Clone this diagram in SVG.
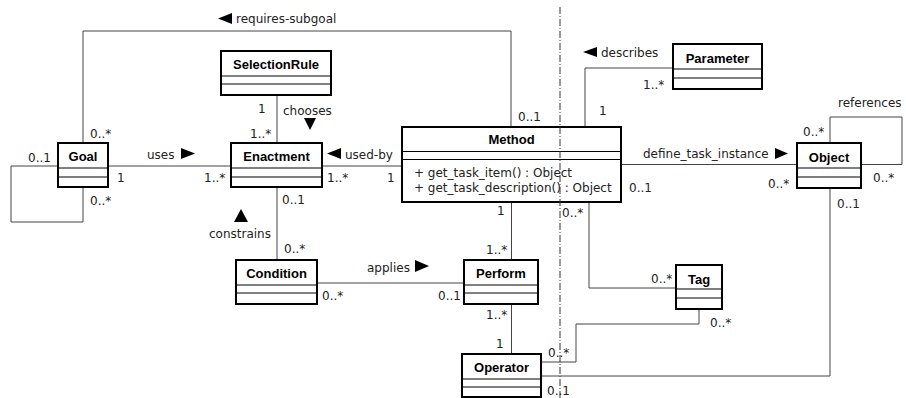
<svg xmlns="http://www.w3.org/2000/svg" width="906" height="398" viewBox="0 0 906 398">
<style>
.box{fill:#fff;stroke:#000;stroke-width:2}
.sep{stroke:#000;stroke-width:1}
.t{font-family:"Liberation Sans",Arial,sans-serif;font-weight:bold;font-size:13px;fill:#000;text-anchor:middle}
.l{font-family:"DejaVu Sans",sans-serif;font-size:12px;fill:#222}
.c{fill:none;stroke:#444;stroke-width:1}
.a{fill:#000}
</style>
<rect width="906" height="398" fill="#fff"/>
<g id="connectors">
<polyline class="c" points="83,143 83,31 511,31 511,127"/>
<polyline class="c" points="58,166 11,166 11,222 83,222 83,187"/>
<line class="c" x1="108" y1="166" x2="231" y2="166"/>
<line class="c" x1="277" y1="95" x2="277" y2="143"/>
<line class="c" x1="322" y1="166" x2="402" y2="166"/>
<line class="c" x1="277" y1="187" x2="277" y2="260"/>
<line class="c" x1="317" y1="283" x2="464" y2="283"/>
<line class="c" x1="511.5" y1="202" x2="511.5" y2="260"/>
<line class="c" x1="511.5" y1="304" x2="511.5" y2="354"/>
<polyline class="c" points="585,127 585,68 673,68"/>
<line class="c" x1="621" y1="164.5" x2="797" y2="164.5"/>
<polyline class="c" points="830,143 830,117 902,117 902,164.5 861,164.5"/>
<polyline class="c" points="589,202 589,288 676,288"/>
<polyline class="c" points="699,309 699,324 576,324 576,362 541,362"/>
<polyline class="c" points="830,188 830,376 541,376"/>
<polygon class="a" points="218,18.5 232,13 232,24"/>
<polygon class="a" points="181,148 195,153.5 181,159"/>
<polygon class="a" points="304,118 316,118 310,130"/>
<polygon class="a" points="327,153.5 341,148 341,159"/>
<polygon class="a" points="241,209 248,222 234,222"/>
<polygon class="a" points="583,52 597,47 597,57"/>
<polygon class="a" points="775,148 788,153.5 775,159"/>
<polygon class="a" points="415,260 429,266 415,272"/>
<text class="l" x="236" y="23">requires-subgoal</text>
<text class="l" x="258" y="113">1</text>
<text class="l" x="283" y="115">chooses</text>
<text class="l" x="250" y="138">1..*</text>
<text class="l" x="90" y="138">0..*</text>
<text class="l" x="28" y="162">0..1</text>
<text class="l" x="147" y="159">uses</text>
<text class="l" x="117" y="182">1</text>
<text class="l" x="204" y="182">1..*</text>
<text class="l" x="90" y="205">0..*</text>
<text class="l" x="345" y="159">used-by</text>
<text class="l" x="327" y="182">1..*</text>
<text class="l" x="387" y="182">1</text>
<text class="l" x="282" y="204">0..1</text>
<text class="l" x="209" y="238">constrains</text>
<text class="l" x="284" y="253">0..*</text>
<text class="l" x="518" y="121">0..1</text>
<text class="l" x="599" y="115">1</text>
<text class="l" x="643" y="89">1..*</text>
<text class="l" x="601" y="57">describes</text>
<text class="l" x="643" y="158">define_task_instance</text>
<text class="l" x="629" y="192">0..1</text>
<text class="l" x="768" y="188">0..*</text>
<text class="l" x="838" y="107">references</text>
<text class="l" x="803" y="136">0..*</text>
<text class="l" x="873" y="182">0..*</text>
<text class="l" x="837" y="208">0..1</text>
<text class="l" x="497" y="215">1</text>
<text class="l" x="562" y="217">0..*</text>
<text class="l" x="486" y="254">1..*</text>
<text class="l" x="367" y="272">applies</text>
<text class="l" x="322" y="300">0..*</text>
<text class="l" x="438" y="300">0..1</text>
<text class="l" x="486" y="319">1..*</text>
<text class="l" x="496" y="348">1</text>
<text class="l" x="548" y="357">0..*</text>
<text class="l" x="547" y="395">0..1</text>
<text class="l" x="651" y="283">0..*</text>
<text class="l" x="710" y="327">0..*</text>
</g>
<g id="Goal">
<rect class="box" x="58" y="143" width="50" height="44"/>
<line class="sep" x1="58" y1="168" x2="108" y2="168"/>
<line class="sep" x1="58" y1="177" x2="108" y2="177"/>
<text class="t" x="83" y="161">Goal</text>
</g>
<g id="SelectionRule">
<rect class="box" x="221" y="51" width="110" height="44"/>
<line class="sep" x1="221" y1="76" x2="331" y2="76"/>
<line class="sep" x1="221" y1="84" x2="331" y2="84"/>
<text class="t" x="276" y="69">SelectionRule</text>
</g>
<g id="Enactment">
<rect class="box" x="231" y="143" width="91" height="44"/>
<line class="sep" x1="231" y1="168" x2="322" y2="168"/>
<line class="sep" x1="231" y1="177" x2="322" y2="177"/>
<text class="t" x="276.5" y="161">Enactment</text>
</g>
<g id="Method">
<rect class="box" x="402" y="127" width="219" height="75"/>
<line class="sep" x1="402" y1="151.5" x2="621" y2="151.5"/>
<line class="sep" x1="402" y1="159.5" x2="621" y2="159.5"/>
<text class="t" x="511.5" y="144">Method</text>
<text class="l" x="414" y="177">+ get_task_item() : Object</text>
<text class="l" x="414" y="192">+ get_task_description() : Object</text>
</g>
<g id="Parameter">
<rect class="box" x="673" y="44" width="89" height="45"/>
<line class="sep" x1="673" y1="69" x2="762" y2="69"/>
<line class="sep" x1="673" y1="78" x2="762" y2="78"/>
<text class="t" x="717.5" y="63">Parameter</text>
</g>
<g id="Object">
<rect class="box" x="797" y="143" width="64" height="45"/>
<line class="sep" x1="797" y1="168" x2="861" y2="168"/>
<line class="sep" x1="797" y1="177" x2="861" y2="177"/>
<text class="t" x="829" y="162">Object</text>
</g>
<g id="Condition">
<rect class="box" x="236" y="260" width="81" height="44"/>
<line class="sep" x1="236" y1="285" x2="317" y2="285"/>
<line class="sep" x1="236" y1="293" x2="317" y2="293"/>
<text class="t" x="276.5" y="278">Condition</text>
</g>
<g id="Perform">
<rect class="box" x="464" y="260" width="74" height="44"/>
<line class="sep" x1="464" y1="285" x2="538" y2="285"/>
<line class="sep" x1="464" y1="293" x2="538" y2="293"/>
<text class="t" x="501" y="278">Perform</text>
</g>
<g id="Tag">
<rect class="box" x="676" y="265" width="46" height="44"/>
<line class="sep" x1="676" y1="289" x2="722" y2="289"/>
<line class="sep" x1="676" y1="298" x2="722" y2="298"/>
<text class="t" x="699" y="284">Tag</text>
</g>
<g id="Operator">
<rect class="box" x="462" y="354" width="79" height="43"/>
<line class="sep" x1="462" y1="379" x2="541" y2="379"/>
<line class="sep" x1="462" y1="387" x2="541" y2="387"/>
<text class="t" x="501.5" y="372">Operator</text>
</g>
<line x1="560" y1="7" x2="560" y2="398" stroke="#333" stroke-width="1" stroke-dasharray="7,2,1,2"/>
</svg>
